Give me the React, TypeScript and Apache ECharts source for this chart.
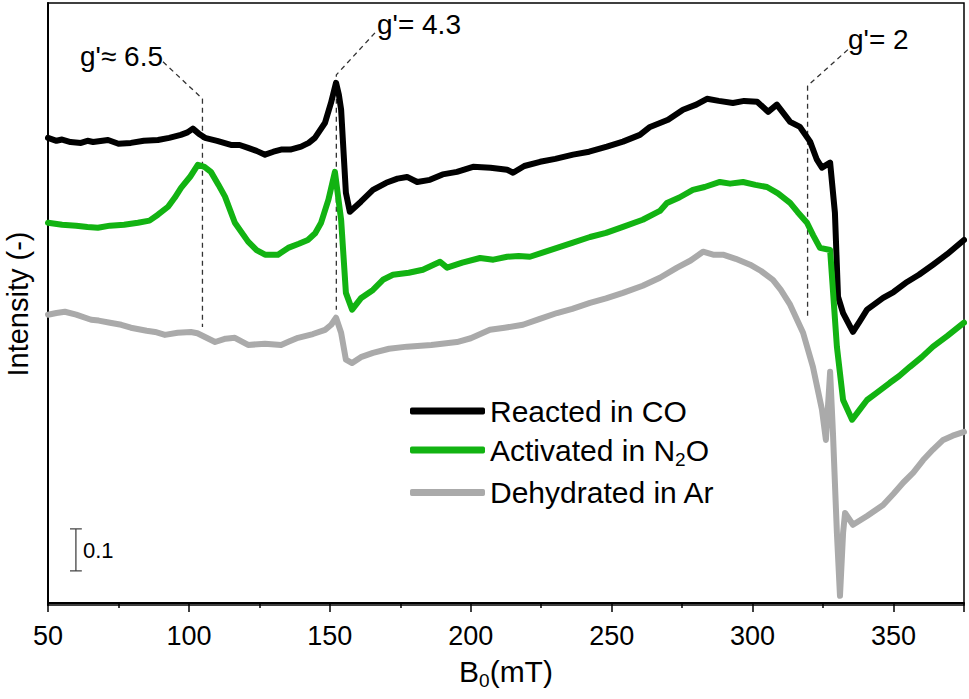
import React, { useEffect, useRef } from "react";
import * as echarts from "echarts";

// Magnetic field B0 (mT) vs. intensity (arb. units, scale bar = 0.1)
const reactedCO: number[][] = [
  [50.0, 1.107], [53, 1.1], [55, 1.103], [58, 1.097], [61.7, 1.095], [64, 1.1], [66, 1.097],
  [71.3, 1.102], [75, 1.093], [79.4, 1.095], [84, 1.1], [89.0, 1.102], [93, 1.107], [97.1, 1.114],
  [99.5, 1.12], [101.4, 1.129], [103.5, 1.117], [105.7, 1.107], [110, 1.1], [114.9, 1.09],
  [118, 1.09], [121.0, 1.083], [124, 1.076], [127.0, 1.067], [130, 1.074], [132.7, 1.079],
  [136, 1.079], [139.8, 1.086], [142.5, 1.095], [144.7, 1.107], [148.3, 1.143], [150.4, 1.19],
  [152.2, 1.238], [153.2, 1.21], [154.0, 1.174], [155.7, 0.976], [157.1, 0.931], [161, 0.955],
  [165.3, 0.983], [170, 1.0], [174, 1.01], [177.4, 1.014], [181, 1.002], [185.5, 1.007], [190, 1.02],
  [195.1, 1.026], [200.8, 1.038], [207, 1.036], [212.9, 1.031], [215.0, 1.024], [219, 1.04],
  [224.6, 1.05], [230, 1.057], [236.3, 1.067], [242, 1.074], [248.3, 1.086], [254, 1.098],
  [260.0, 1.114], [263.6, 1.133], [270, 1.15], [275.3, 1.174], [280, 1.186], [283.8, 1.2],
  [288, 1.195], [293.0, 1.19], [297, 1.195], [301.6, 1.193], [305.5, 1.169], [308.6, 1.186],
  [313.3, 1.145], [316.8, 1.133], [320.4, 1.098], [322.8, 1.055], [324.6, 1.036], [327.5, 1.048],
  [329.2, 0.929], [330.3, 0.729], [332.1, 0.69], [335.6, 0.645], [338, 0.67], [340.6, 0.698],
  [346.3, 0.726], [350, 0.74], [354.8, 0.764], [359, 0.781], [364.0, 0.805], [369, 0.83], [375, 0.864],
];

const activatedN2O: number[][] = [
  [50.0, 0.905], [55, 0.9], [60, 0.898], [64, 0.895], [67.7, 0.893], [72, 0.898], [77, 0.9],
  [81.9, 0.905], [86, 0.91], [89.0, 0.924], [92.6, 0.943], [95, 0.965], [97.2, 0.988],
  [100.5, 1.015], [103.2, 1.043], [105.5, 1.038], [107.8, 1.026], [110.5, 0.995], [112.8, 0.967],
  [116.3, 0.905], [121.0, 0.86], [124, 0.84], [127.0, 0.829], [131.6, 0.829], [135.2, 0.845],
  [139, 0.855], [142.2, 0.864], [144.8, 0.88], [146.9, 0.905], [149.5, 0.96], [151.8, 1.026],
  [154.0, 0.912], [155.7, 0.738], [157.9, 0.698], [161, 0.725], [165.3, 0.745], [169, 0.77],
  [172.4, 0.781], [178, 0.786], [183.0, 0.793], [189.1, 0.812], [191.6, 0.798], [197, 0.81],
  [203.3, 0.821], [208, 0.817], [212.9, 0.824], [217, 0.826], [221.0, 0.824], [226, 0.835],
  [230.6, 0.845], [236, 0.857], [242.3, 0.871], [248, 0.881], [254.0, 0.895], [261, 0.912],
  [267.1, 0.933], [269.6, 0.952], [274, 0.965], [278.8, 0.983], [283, 0.99], [288.4, 1.002],
  [292, 0.998], [296.6, 1.002], [301, 0.995], [305.1, 0.99], [309, 0.975], [313.3, 0.952],
  [316, 0.93], [319.3, 0.905], [321.5, 0.875], [323.9, 0.845], [327.5, 0.84], [329.9, 0.61],
  [332.1, 0.483], [335.3, 0.436], [338, 0.46], [340.6, 0.483], [344, 0.5], [348.7, 0.524],
  [352, 0.54], [355.8, 0.562], [360, 0.585], [364.0, 0.61], [369, 0.635], [375, 0.667],
];

const dehydratedAr: number[][] = [
  [50.0, 0.686], [53, 0.69], [56.0, 0.693], [60, 0.686], [65.3, 0.674], [68, 0.672], [72, 0.667],
  [76, 0.662], [79.4, 0.655], [85, 0.648], [88, 0.645], [91.5, 0.638], [96, 0.643], [100.7, 0.645],
  [103, 0.642], [105.7, 0.633], [109.3, 0.621], [113, 0.629], [116.3, 0.631], [121.0, 0.614],
  [127, 0.617], [132.7, 0.614], [135.5, 0.622], [138.7, 0.631], [144, 0.64], [148.3, 0.65],
  [150.5, 0.662], [152.2, 0.679], [154.0, 0.643], [155.7, 0.579], [157.9, 0.571], [161, 0.585],
  [165.3, 0.595], [171, 0.605], [177.4, 0.61], [186, 0.614], [195.1, 0.621], [200, 0.63],
  [206.8, 0.65], [212, 0.655], [218.5, 0.662], [224, 0.675], [230.6, 0.69], [236, 0.7],
  [242.3, 0.714], [248, 0.725], [254.0, 0.738], [261, 0.755], [267.1, 0.774], [273.2, 0.798],
  [278, 0.815], [282.4, 0.836], [286, 0.829], [289.5, 0.829], [294, 0.819], [299.1, 0.805],
  [303, 0.79], [307.2, 0.769], [310, 0.745], [313.3, 0.71], [317.9, 0.643], [321.4, 0.562],
  [324.6, 0.46], [326.0, 0.388], [327.5, 0.55], [328.5, 0.405], [329.9, 0.167], [331.0, 0.017],
  [332.1, 0.167], [332.8, 0.214], [335.6, 0.186], [340.6, 0.207], [346.3, 0.233], [350, 0.26],
  [353.4, 0.286], [357, 0.31], [360.5, 0.34], [364, 0.365], [367.6, 0.388], [371, 0.398], [375, 0.407],
];

const seriesNames = ["Reacted in CO", "Activated in N2O", "Dehydrated in Ar"];
const seriesColors = ["#000000", "#12b312", "#aaaaaa"];

// g' marker guide lines (B0, intensity)
const guideG65: number[][] = [[90.8, 1.288], [104.8, 1.2], [104.8, 0.657]];
const guideG43: number[][] = [[166.0, 1.357], [152.3, 1.257], [152.3, 0.698]];
const guideG2: number[][] = [[333.8, 1.317], [319.5, 1.231], [319.5, 0.681]];
const guideLabels = ["g'\u2248 6.5", "g'= 4.3", "g'= 2"];

// intensity scale bar (0.1)
const scaleBarX = 59.9;
const scaleBarLow = 0.076;
const scaleBarHigh = 0.176;
const scaleBarLabel = "0.1";

const xMin = 50;
const xMax = 375;
const xStep = 50;

const FONT = "'Liberation Sans', Arial, sans-serif";

export default function App() {
  const ref = useRef<HTMLDivElement>(null);

  useEffect(() => {
    if (!ref.current) return;
    const chart = echarts.init(ref.current, null, { renderer: "svg" });

    const curveData = [reactedCO, activatedN2O, dehydratedAr];
    const curves = curveData.map((d, i) => ({
      name: seriesNames[i],
      type: "line",
      data: d,
      symbol: "none",
      z: 3,
      lineStyle: { color: seriesColors[i], width: 6, cap: "round", join: "round" },
      itemStyle: { color: seriesColors[i] },
    }));

    const guides = [guideG65, guideG43, guideG2].map((d, i) => ({
      name: "guide" + i,
      type: "line",
      data: d,
      symbol: "none",
      z: 2,
      silent: true,
      lineStyle: { color: "#333", width: 1.3, type: [5, 4] },
    }));

    const capHalf = 2.1;
    const scaleBar = [
      [[scaleBarX, scaleBarLow], [scaleBarX, scaleBarHigh]],
      [[scaleBarX - capHalf, scaleBarLow], [scaleBarX + capHalf, scaleBarLow]],
      [[scaleBarX - capHalf, scaleBarHigh], [scaleBarX + capHalf, scaleBarHigh]],
    ].map((d, i) => ({
      name: "scale" + i,
      type: "line",
      data: d,
      symbol: "none",
      silent: true,
      lineStyle: { color: "#444", width: 1.3 },
    }));

    chart.setOption({
      animation: false,
      grid: {
        left: 48,
        right: 5,
        top: 3,
        bottom: 94,
        containLabel: false,
        outerBoundsMode: "none",
        show: true,
        borderColor: "#000",
        borderWidth: 1.5,
        backgroundColor: "transparent",
      },
      legend: {
        orient: "vertical",
        left: 410,
        top: 396,
        padding: 0,
        itemWidth: 75,
        itemHeight: 7,
        itemGap: 9,
        icon: "roundRect",
        data: seriesNames,
        formatter: (name: string) =>
          name === "Activated in N2O" ? "{n|Activated in N}{sub|2}{n|O}" : "{n|" + name + "}",
        textStyle: {
          fontFamily: FONT,
          fontSize: 30,
          color: "#000",
          rich: {
            n: { fontFamily: FONT, fontSize: 30, color: "#000", height: 37, verticalAlign: "middle" },
            sub: { fontFamily: FONT, fontSize: 19, color: "#000", padding: [18, 0, 0, 0], verticalAlign: "bottom" },
          },
        },
      },
      xAxis: {
        type: "value",
        min: xMin,
        max: xMax,
        interval: xStep,
        name: "{b|B}{s|0}{b|(mT)}",
        nameLocation: "middle",
        nameGap: 48,
        nameTextStyle: {
          rich: {
            b: { fontFamily: FONT, fontSize: 30, color: "#000", verticalAlign: "middle" },
            s: { fontFamily: FONT, fontSize: 19, color: "#000", padding: [18, 0, 0, 0], verticalAlign: "bottom" },
          },
        },
        axisLine: { show: true, lineStyle: { color: "#000", width: 2 } },
        axisTick: { show: true, inside: false, length: 9, lineStyle: { color: "#000", width: 1.5 } },
        minorTick: { show: true, splitNumber: 2, length: 5, lineStyle: { color: "#000", width: 1.5 } },
        axisLabel: {
          fontFamily: FONT,
          fontSize: 27,
          color: "#000",
          margin: 17,
          showMaxLabel: false,
        },
        splitLine: { show: false },
      },
      yAxis: {
        type: "value",
        min: -0.005,
        max: 1.428,
        name: "Intensity (-)",
        nameLocation: "middle",
        nameRotate: 90,
        nameGap: 16,
        nameTextStyle: { fontFamily: FONT, fontSize: 29, color: "#000" },
        axisLine: { show: true, lineStyle: { color: "#000", width: 2 } },
        axisTick: { show: false },
        axisLabel: { show: false },
        splitLine: { show: false },
      },
      graphic: [
        { type: "text", left: 80, top: 42, style: { text: guideLabels[0], font: `28px ${FONT}`, fill: "#000" } },
        { type: "text", left: 377, top: 10, style: { text: guideLabels[1], font: `28px ${FONT}`, fill: "#000" } },
        { type: "text", left: 848, top: 25, style: { text: guideLabels[2], font: `28px ${FONT}`, fill: "#000" } },
        { type: "text", left: 83, top: 539, style: { text: scaleBarLabel, font: `22px ${FONT}`, fill: "#000" } },
      ],
      series: [...guides, ...scaleBar, ...curves],
    });

    return () => chart.dispose();
  }, []);

  return (
    <div
      ref={ref}
      style={{ position: "fixed", left: 0, top: 0, width: 969, height: 699, background: "#fff" }}
    />
  );
}
